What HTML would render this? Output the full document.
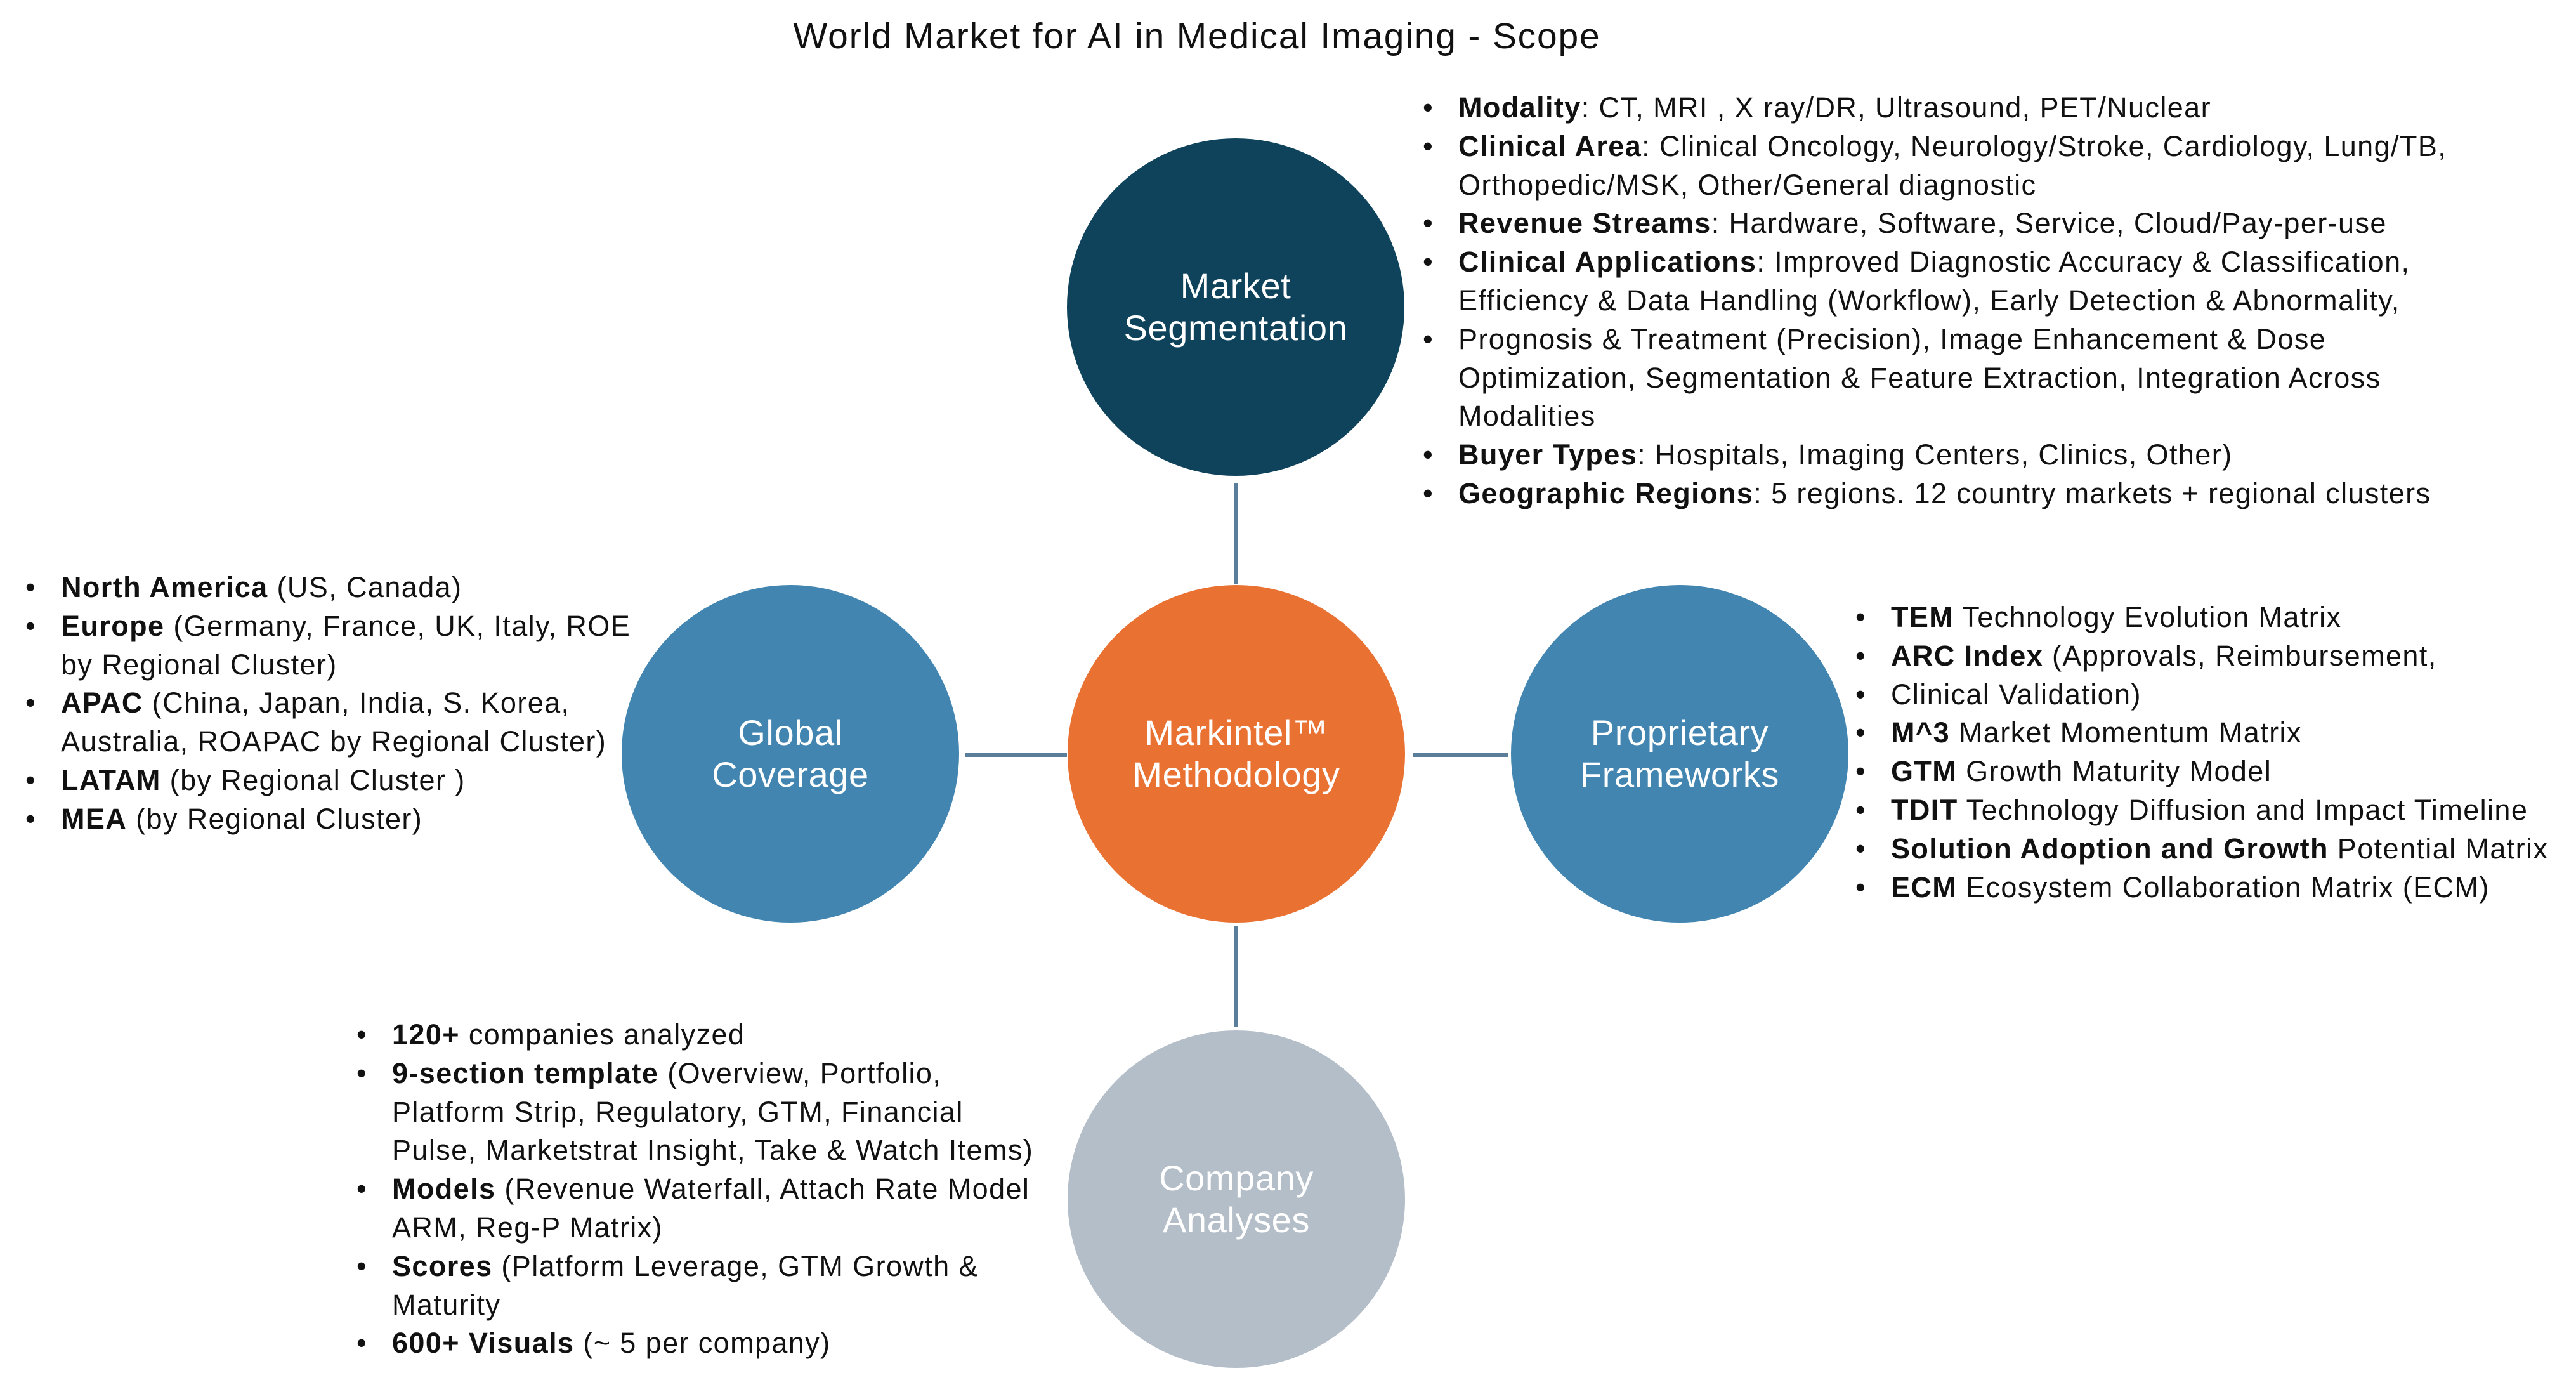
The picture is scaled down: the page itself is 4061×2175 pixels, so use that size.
<!DOCTYPE html>
<html><head><meta charset="utf-8"><style>
html,body{margin:0;padding:0;background:#fff;}
body{width:4061px;height:2175px;position:relative;overflow:hidden;font-family:"Liberation Sans",Arial,sans-serif;color:#111;}
.t{position:absolute;left:0;width:3774px;top:22px;text-align:center;font-size:57px;line-height:70px;letter-spacing:1.8px;}
.c{position:absolute;width:532px;height:532px;border-radius:50%;display:flex;align-items:center;justify-content:center;text-align:center;color:#fff;font-size:56px;line-height:66px;letter-spacing:0.6px;}
.l{position:absolute;background:#5b7f9a;}
ul{position:absolute;margin:0;padding:0;list-style:none;font-size:45px;line-height:60.8px;white-space:nowrap;letter-spacing:1.4px;}
li{position:relative;padding-left:56px;}
li:before{content:"•";position:absolute;left:0;}
li.n:before{content:"";}
b{font-weight:bold;}
</style></head><body>
<div class="t">World Market for AI in Medical Imaging - Scope</div>

<div class="l" style="left:1946px;top:762px;width:6px;height:158px;"></div>
<div class="l" style="left:1521px;top:1187px;width:161px;height:6px;"></div>
<div class="l" style="left:2228px;top:1187px;width:150px;height:6px;"></div>
<div class="l" style="left:1946px;top:1460px;width:6px;height:158px;"></div>

<div class="c" style="left:1682px;top:218px;background:#0f435c;">Market<br>Segmentation</div>
<div class="c" style="left:1683px;top:922px;background:#e97233;">Markintel™<br>Methodology</div>
<div class="c" style="left:980px;top:922px;background:#4185b0;">Global<br>Coverage</div>
<div class="c" style="left:2382px;top:922px;background:#4185b0;">Proprietary<br>Frameworks</div>
<div class="c" style="left:1683px;top:1624px;background:#b4bec8;">Company<br>Analyses</div>

<ul style="left:2243px;top:140px;">
<li><b>Modality</b>: CT, MRI , X ray/DR, Ultrasound, PET/Nuclear</li>
<li><b>Clinical Area</b>: Clinical Oncology, Neurology/Stroke, Cardiology, Lung/TB,</li>
<li class="n">Orthopedic/MSK, Other/General diagnostic</li>
<li><b>Revenue Streams</b>: Hardware, Software, Service, Cloud/Pay-per-use</li>
<li><b>Clinical Applications</b>: Improved Diagnostic Accuracy &amp; Classification,</li>
<li class="n">Efficiency &amp; Data Handling (Workflow), Early Detection &amp; Abnormality,</li>
<li>Prognosis &amp; Treatment (Precision), Image Enhancement &amp; Dose</li>
<li class="n">Optimization, Segmentation &amp; Feature Extraction, Integration Across</li>
<li class="n">Modalities</li>
<li><b>Buyer Types</b>: Hospitals, Imaging Centers, Clinics, Other)</li>
<li><b>Geographic Regions</b>: 5 regions. 12 country markets + regional clusters</li>
</ul>

<ul style="left:40px;top:896px;">
<li><b>North America</b> (US, Canada)</li>
<li><b>Europe</b> (Germany, France, UK, Italy, ROE</li>
<li class="n">by Regional Cluster)</li>
<li><b>APAC</b> (China, Japan, India, S. Korea,</li>
<li class="n">Australia, ROAPAC by Regional Cluster)</li>
<li><b>LATAM</b> (by Regional Cluster )</li>
<li><b>MEA</b> (by Regional Cluster)</li>
</ul>

<ul style="left:2925px;top:943px;">
<li><b>TEM</b> Technology Evolution Matrix</li>
<li><b>ARC Index</b> (Approvals, Reimbursement,</li>
<li>Clinical Validation)</li>
<li><b>M^3</b> Market Momentum Matrix</li>
<li><b>GTM</b> Growth Maturity Model</li>
<li><b>TDIT</b> Technology Diffusion and Impact Timeline</li>
<li><b>Solution Adoption and Growth</b> Potential Matrix</li>
<li><b>ECM</b> Ecosystem Collaboration Matrix (ECM)</li>
</ul>

<ul style="left:562px;top:1601px;">
<li><b>120+</b> companies analyzed</li>
<li><b>9-section template</b> (Overview, Portfolio,</li>
<li class="n">Platform Strip, Regulatory, GTM, Financial</li>
<li class="n">Pulse, Marketstrat Insight, Take &amp; Watch Items)</li>
<li><b>Models</b> (Revenue Waterfall, Attach Rate Model</li>
<li class="n">ARM, Reg-P Matrix)</li>
<li><b>Scores</b> (Platform Leverage, GTM Growth &amp;</li>
<li class="n">Maturity</li>
<li><b>600+ Visuals</b> (~ 5 per company)</li>
</ul>
</body></html>
